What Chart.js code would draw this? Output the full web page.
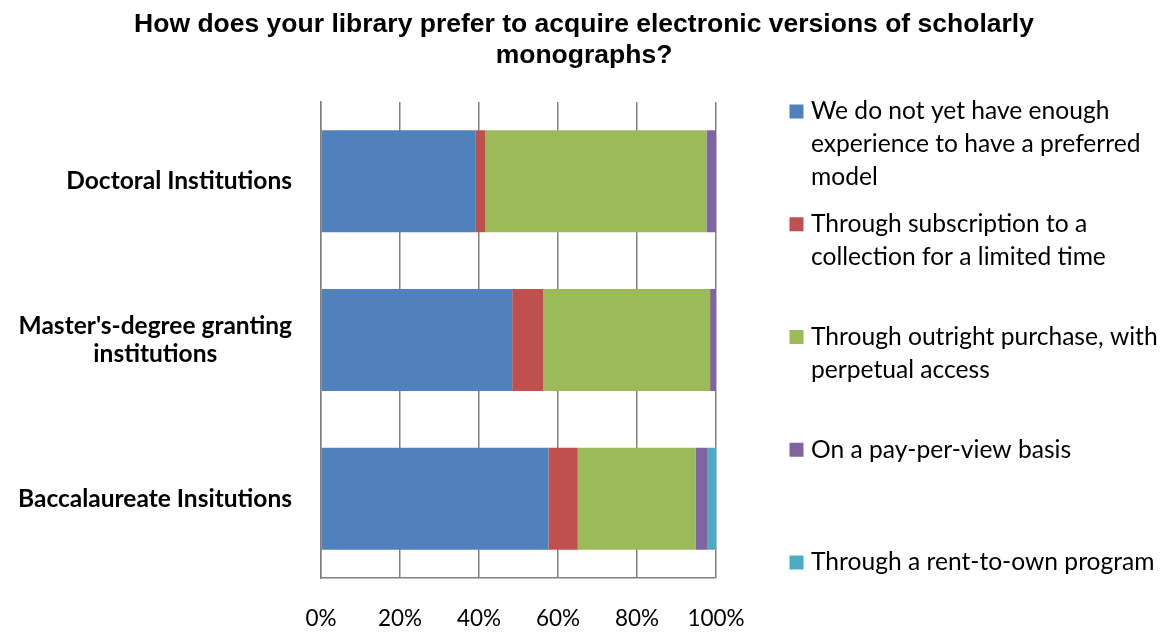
<!DOCTYPE html>
<html>
<head>
<meta charset="utf-8">
<script src="https://cdn.jsdelivr.net/npm/chart.js@4.4.1/dist/chart.umd.min.js"></script>
<style>
    html, body { margin: 0; padding: 0; background: #ffffff; }
    canvas { display: block; }
</style>
</head>
<body>
<canvas id="chart" width="1161" height="632"></canvas>
<script>
const titleLines = [
    'How does your library prefer to acquire electronic versions of scholarly',
    'monographs?'
]

const categories = [
    ['Doctoral Institutions'],
    ["Master's-degree granting", 'institutions'],
    ['Baccalaureate Insitutions']
]

const seriesNames = [
    ['We do not yet have enough', 'experience to have a preferred', 'model'],
    ['Through subscription to a', 'collection for a limited time'],
    ['Through outright purchase, with', 'perpetual access'],
    ['On a pay-per-view basis'],
    ['Through a rent-to-own program']
]

const seriesColors = ['#4F81BD', '#C0504D', '#9BBB59', '#8064A2', '#4BACC6']

// percent of respondents, one value per category
const noExperience = [39.2, 48.4, 57.6]
const subscription = [2.4, 7.9, 7.4]
const outrightPurchase = [56.0, 42.2, 29.8]
const payPerView = [2.4, 1.5, 3.1]
const rentToOwn = [0, 0, 2.1]

const seriesValues = [noExperience, subscription, outrightPurchase, payPerView, rentToOwn]

const xTicks = [0, 20, 40, 60, 80, 100]

const BODY_FONT = 'Lato'
const TITLE_FONT = '"Liberation Sans", Arial, sans-serif'
const GRID_COLOR = '#808080'

// title, category labels and the wrapped legend are drawn by hand
const extras = {
    id: 'extras',
    afterDraw(chart) {
        const ctx = chart.ctx
        const yScale = chart.scales.y
        ctx.save()
        ctx.fillStyle = '#000000'

        ctx.font = 'bold 26.5px ' + TITLE_FONT
        ctx.textAlign = 'center'
        ctx.textBaseline = 'alphabetic'
        titleLines.forEach((line, i) => ctx.fillText(line, 584, 32 + i * 31))

        ctx.font = 'bold 24.5px ' + BODY_FONT
        ctx.textBaseline = 'middle'
        categories.forEach((lines, i) => {
            const cy = yScale.getPixelForValue(i)
            const widest = Math.max(...lines.map(l => ctx.measureText(l).width))
            const cx = 292 - widest / 2
            const top = cy - (lines.length - 1) * 14
            lines.forEach((line, j) => ctx.fillText(line, cx, top + j * 28))
        })

        ctx.font = '24.6px ' + BODY_FONT
        ctx.textAlign = 'left'
        chart.data.datasets.forEach((ds, i) => {
            const y0 = 111.5 + i * 112.75
            ctx.fillStyle = ds.backgroundColor
            ctx.fillRect(789.5, y0 - 7, 14, 14)
            ctx.fillStyle = '#000000'
            ds.legendLines.forEach((line, j) => ctx.fillText(line, 811, y0 + j * 33))
        })
        ctx.restore()
    }
}

new Chart(document.getElementById('chart'), {
    type: 'bar',
    data: {
        labels: categories.map(c => c.join(' ')),
        datasets: seriesNames.map((name, i) => ({
            label: name.join(' '),
            legendLines: name,
            data: seriesValues[i],
            backgroundColor: seriesColors[i],
            borderWidth: 0,
            barPercentage: 0.643,
            categoryPercentage: 1
        }))
    },
    options: {
        indexAxis: 'y',
        responsive: false,
        devicePixelRatio: 1,
        animation: false,
        layout: { padding: { top: 102, right: 445, left: 0, bottom: 0 } },
        plugins: {
            legend: { display: false },
            title: { display: false },
            tooltip: { enabled: false }
        },
        scales: {
            x: {
                stacked: true,
                min: 0,
                max: 100,
                afterBuildTicks: scale => { scale.ticks = xTicks.map(v => ({ value: v })) },
                afterFit: scale => { scale.height = 54 },
                grid: { color: GRID_COLOR, lineWidth: 1.5, drawTicks: false },
                border: { display: true, color: GRID_COLOR, width: 1.5 },
                ticks: {
                    padding: 27,
                    color: '#000000',
                    font: { family: BODY_FONT, size: 22.5 },
                    callback: v => v + '%'
                }
            },
            y: {
                stacked: true,
                afterFit: scale => { scale.width = 321 },
                grid: { display: false, drawTicks: false },
                border: { display: true, color: GRID_COLOR, width: 1.5 },
                ticks: { display: false }
            }
        }
    },
    plugins: [extras]
})
</script>
</body>
</html>
